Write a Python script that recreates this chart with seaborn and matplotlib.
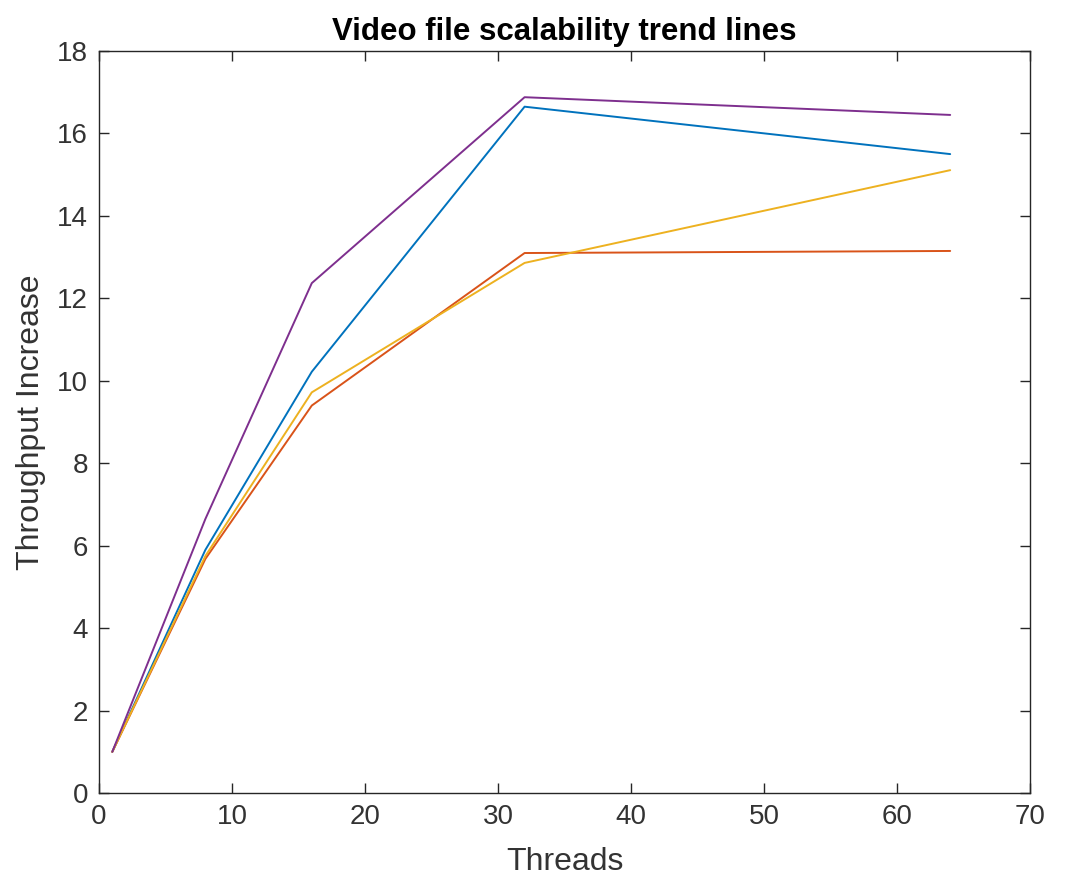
import matplotlib
matplotlib.use("Agg")
import matplotlib.pyplot as plt
import seaborn as sns
import pandas as pd

threads = [1, 8, 16, 32, 64]
series_names = ["Series 1", "Series 2", "Series 3", "Series 4"]
blue_vals = [1.0, 5.9, 10.22, 16.65, 15.5]
red_vals = [1.0, 5.68, 9.4, 13.1, 13.15]
yellow_vals = [1.0, 5.75, 9.72, 12.86, 15.11]
purple_vals = [1.0, 6.65, 12.37, 16.88, 16.45]
colors = ["#0072BD", "#D95319", "#EDB120", "#7E2F8E"]

sns.set_style("white")
plt.rcParams["font.family"] = ["Liberation Sans", "DejaVu Sans"]

rows = []
for name, vals in zip(series_names, [blue_vals, red_vals, yellow_vals, purple_vals]):
    for t, v in zip(threads, vals):
        rows.append({"Threads": t, "Value": v, "Series": name})
df = pd.DataFrame(rows)

fig = plt.figure(figsize=(10.68, 8.83), dpi=100)
ax = fig.add_axes([0.0927, 0.1019, 0.8717, 0.8403])
sns.lineplot(data=df, x="Threads", y="Value", hue="Series", palette=colors,
             ax=ax, legend=False, linewidth=1.4, estimator=None, sort=False)

ax.set_xlim(0, 70)
ax.set_ylim(0, 18)
ax.set_xticks(range(0, 71, 10))
ax.set_yticks(range(0, 19, 2))
ax.xaxis.set_ticks_position("both")
ax.yaxis.set_ticks_position("both")
ax.tick_params(axis="both", which="both", direction="in", length=7, width=1,
               colors="#262626", labelcolor="#333333", labelsize=20,
               labeltop=False, labelright=False, pad=8)
for s in ax.spines.values():
    s.set_visible(True)
    s.set_color("#262626")
    s.set_linewidth(1.0)
ax.set_xlabel("Threads", fontsize=23, color="#333333", labelpad=12)
ax.set_ylabel("Throughput Increase", fontsize=23, color="#333333", labelpad=8)
ax.set_title("Video file scalability trend lines", fontsize=22.5, fontweight="bold",
             color="black", pad=8)

fig.savefig("out.png", dpi=100, facecolor="white")
